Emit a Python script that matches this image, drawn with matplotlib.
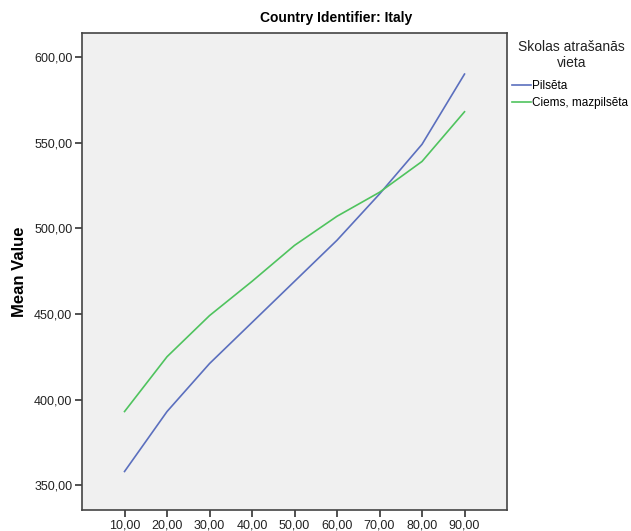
import matplotlib.pyplot as plt
from matplotlib.ticker import FuncFormatter
from matplotlib import font_manager

names = {f.name for f in font_manager.fontManager.ttflist}
narrow = "Liberation Sans Narrow" in names
plt.rcParams['font.family'] = ['Liberation Sans Narrow', 'Liberation Sans', 'DejaVu Sans'] if narrow \
    else ['Liberation Sans', 'DejaVu Sans']

percentiles = [10, 20, 30, 40, 50, 60, 70, 80, 90]
pilseta = [358, 393, 421, 445, 469, 493, 520, 549, 590]
ciems = [393, 425, 449, 469, 490, 507, 521, 539, 568]
series_names = ["Pilsēta", "Ciems, mazpilsēta"]
legend_title = "Skolas atrašanās\nvieta"

fig = plt.figure(figsize=(6.31, 5.31), dpi=100, facecolor="white")
ax = fig.add_axes([0.13, 0.0395, 0.6735, 0.8984])
ax.set_facecolor("#f0f0f0")

ax.plot(percentiles, pilseta, color="#5b6fbe", linewidth=1.2, label=series_names[0])
ax.plot(percentiles, ciems, color="#4fc35e", linewidth=1.2, label=series_names[1])

ax.set_xlim(0, 100)
ax.set_ylim(335.5, 614)
ax.set_xticks(percentiles)
ax.set_yticks([350, 400, 450, 500, 550, 600])
fmt = FuncFormatter(lambda v, p: f"{v:.2f}".replace(".", ","))
ax.xaxis.set_major_formatter(fmt)
ax.yaxis.set_major_formatter(fmt)
ax.tick_params(length=5, width=1.2, color="#333333", labelsize=11 if narrow else 9,
               pad=2, labelcolor="#222222")
for sp in ax.spines.values():
    sp.set_color("#444444")
    sp.set_linewidth(1.2)

ax.set_ylabel("Mean Value", fontsize=12, fontweight="bold", labelpad=5,
              family=['Liberation Sans', 'DejaVu Sans'])
fig.text(0.533, 0.966, "Country Identifier: Italy", fontsize=12 if narrow else 10,
         fontweight="bold", ha="center", va="center")

# legend title drawn separately so it is centred while entries stay left aligned
fig.text(0.906, 0.897, legend_title, fontsize=13.3 if narrow else 10, ha="center",
         va="center", linespacing=1.2, color="#222222")
ax.legend(loc="upper left", bbox_to_anchor=(1.006, 0.906), frameon=False,
          fontsize=10.5 if narrow else 8.5, handlelength=1.6, handletextpad=0.1,
          labelspacing=0.4, borderaxespad=0.1, borderpad=0.1)

fig.savefig("out.png", dpi=100, facecolor="white")
